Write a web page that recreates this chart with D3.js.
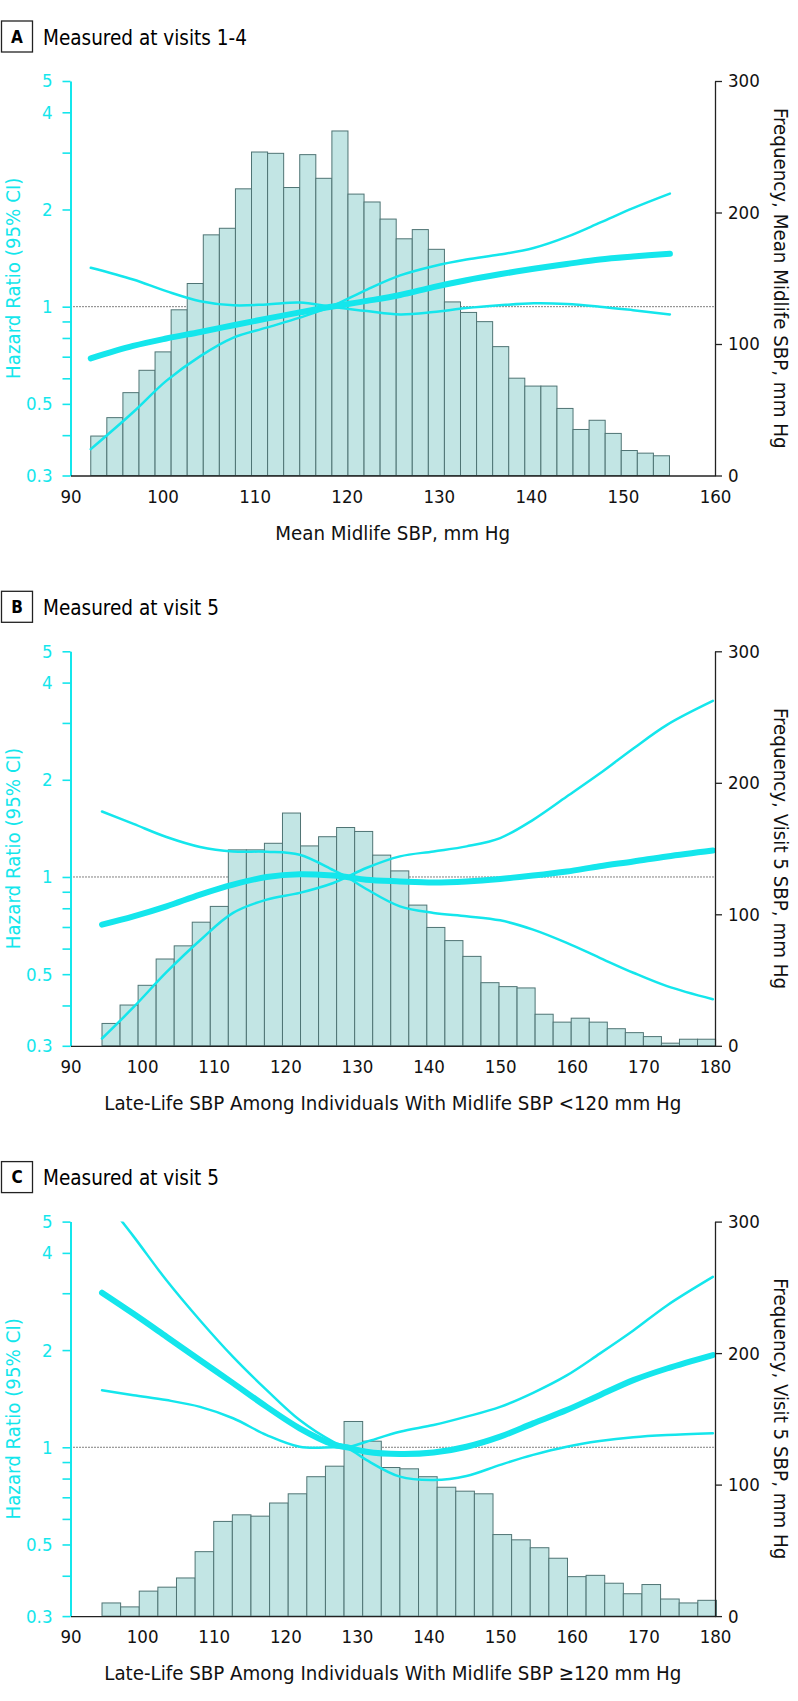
<!DOCTYPE html>
<html>
<head>
<meta charset="utf-8">
<script src="https://cdn.jsdelivr.net/npm/d3@7"></script>
<style>
  body { margin: 0; background: #fff; }
  svg text { font-family: "DejaVu Sans Condensed", "DejaVu Sans", sans-serif; font-stretch: condensed; }
</style>
</head>
<body>
<svg id="chart" width="798" height="1701"></svg>
<script>
// ---- data ----
const panelLetters = ['A', 'B', 'C'];
const panelTitles  = ['Measured at visits 1-4', 'Measured at visit 5', 'Measured at visit 5'];
const xTitles = [
  'Mean Midlife SBP, mm Hg',
  'Late-Life SBP Among Individuals With Midlife SBP <120 mm Hg',
  'Late-Life SBP Among Individuals With Midlife SBP \u2265120 mm Hg'
];
const freqTitles = [
  'Frequency, Mean Midlife SBP, mm Hg',
  'Frequency, Visit 5 SBP, mm Hg',
  'Frequency, Visit 5 SBP, mm Hg'
];
const xMaxes = [160, 180, 180];
const xTicksA  = [90, 100, 110, 120, 130, 140, 150, 160];
const xTicksBC = [90, 100, 110, 120, 130, 140, 150, 160, 170, 180];
const hrTicks  = [0.3, 0.4, 0.5, 0.6, 0.7, 0.8, 0.9, 1, 2, 3, 4, 5];
const hrLabels = [0.3, 0.5, 1, 2, 4, 5];
const freqTicks = [0, 100, 200, 300];

// histogram bins (mm Hg) and counts
const binStarts = [92.2, 94.4, 94.4];
const binWidths = [1.746, 2.52, 2.6];
const countsA = [30, 44, 63, 80, 94, 126, 146, 183, 188, 218, 246, 245, 219, 244, 226, 262, 214, 208,
                 195, 180, 187, 172, 132, 124, 117, 98, 74, 68, 68, 51, 35, 42, 32, 19, 17, 15];
const countsB = [17, 31, 46, 66, 76, 94, 106, 149, 149, 154, 177, 152, 159, 166, 163, 145, 133,
                 107, 90, 80, 68, 48, 45, 44, 24, 18, 21, 18, 13, 10, 7, 2, 5, 5];
const countsC = [10, 7, 19, 22, 29, 49, 72, 77, 76, 86, 93, 106, 114, 148, 133, 113, 112,
                 106, 98, 95, 93, 62, 58, 52, 44, 30, 31, 25, 17, 24, 13, 10, 12];

// hazard ratio curves
const sbpA  = [92.2, 96.8, 100.4, 104.1, 107.7, 111.3, 114.9, 118.3, 122.2, 125.8, 129.4, 133.0, 136.6, 140.3, 143.9, 147.5, 151.1, 155.1];
const hrA   = [0.692, 0.756, 0.797, 0.835, 0.876, 0.918, 0.96, 1.0, 1.042, 1.087, 1.15, 1.208, 1.26, 1.31, 1.355, 1.40, 1.43, 1.458];
const ciA1  = [1.32, 1.214, 1.117, 1.04, 1.01, 1.016, 1.03, 1.0, 0.969, 0.946, 0.962, 0.99, 1.01, 1.025, 1.02, 1.0, 0.975, 0.946];
const ciA2  = [0.362, 0.471, 0.589, 0.703, 0.802, 0.861, 0.925, 1.0, 1.13, 1.25, 1.335, 1.40, 1.45, 1.52, 1.645, 1.82, 2.02, 2.24];

const sbpBC = [94.4, 98.8, 103.4, 108.1, 112.7, 117.4, 122.0, 126.7, 128.6, 131.3, 136.0, 140.7, 145.3, 150.0, 154.6, 159.3, 163.9, 168.6, 173.3, 179.7];
const hrB   = [0.712, 0.755, 0.811, 0.882, 0.947, 1.0, 1.02, 1.01, 1.0, 0.98, 0.969, 0.962, 0.969, 0.986, 1.01, 1.04, 1.08, 1.117, 1.158, 1.208];
const ciB1  = [1.595, 1.46, 1.33, 1.239, 1.2, 1.197, 1.172, 1.05, 1.0, 0.918, 0.811, 0.774, 0.756, 0.734, 0.687, 0.625, 0.562, 0.505, 0.459, 0.418];
const ciB2  = [0.316, 0.395, 0.507, 0.637, 0.774, 0.851, 0.893, 0.958, 1.0, 1.066, 1.158, 1.2, 1.244, 1.32, 1.503, 1.774, 2.09, 2.50, 2.96, 3.51];
const hrC   = [3.01, 2.59, 2.20, 1.86, 1.58, 1.334, 1.145, 1.02, 1.0, 0.969, 0.953, 0.963, 1.004, 1.079, 1.186, 1.304, 1.45, 1.614, 1.754, 1.93];
const ciC1  = [6.0, 4.5, 3.29, 2.47, 1.905, 1.503, 1.214, 1.04, 1.0, 0.914, 0.811, 0.792, 0.815, 0.882, 0.947, 1.004, 1.045, 1.074, 1.091, 1.105];
const ciC2  = [1.503, 1.45, 1.40, 1.334, 1.23, 1.091, 1.004, 1.0, 1.0, 1.04, 1.117, 1.172, 1.244, 1.334, 1.475, 1.67, 1.95, 2.30, 2.75, 3.37];

// ---- layout ----
const cyan = '#14e6ec';
const barFill = '#c2e5e4', barStroke = '#4f7474';
const plotLeft = 70.5, plotRight = 715;
const panelTops = [81, 651.3, 1221.6];
const plotH = 394.5;

const panels = [
  { counts: countsA, sbp: sbpA,  hr: hrA, ci1: ciA1, ci2: ciA2, xTicks: xTicksA },
  { counts: countsB, sbp: sbpBC, hr: hrB, ci1: ciB1, ci2: ciB2, xTicks: xTicksBC },
  { counts: countsC, sbp: sbpBC, hr: hrC, ci1: ciC1, ci2: ciC2, xTicks: xTicksBC }
];

const svg = d3.select('#chart');

panels.forEach((p, i) => {
  const top = panelTops[i], bottom = top + plotH;
  const g = svg.append('g');

  const x  = d3.scaleLinear().domain([90, xMaxes[i]]).range([plotLeft, plotRight]);
  const yH = d3.scaleLog().domain([0.3, 5]).range([bottom, top]);
  const yF = d3.scaleLinear().domain([0, 300]).range([bottom, top]);

  // header
  g.append('rect')
      .attr('x', 1.5).attr('y', top - 60)
      .attr('width', 31).attr('height', 31)
      .attr('fill', 'none').attr('stroke', '#222').attr('stroke-width', 1.3);
  g.append('text')
      .attr('x', 17).attr('y', top - 44.5)
      .attr('text-anchor', 'middle').attr('dominant-baseline', 'central')
      .style('font-size', '17px').style('font-weight', 'bold')
      .text(panelLetters[i]);
  g.append('text')
      .attr('x', 43).attr('y', top - 36.5)
      .style('font-size', '20.5px')
      .text(panelTitles[i]);

  // reference line at HR = 1
  g.append('line')
      .attr('x1', plotLeft + 3).attr('x2', plotRight)
      .attr('y1', yH(1)).attr('y2', yH(1))
      .attr('stroke', '#000').attr('stroke-width', 1)
      .attr('stroke-dasharray', '1,2');

  // histogram
  const w = binWidths[i], x0 = binStarts[i];
  g.append('g').selectAll('rect')
    .data(p.counts)
    .join('rect')
      .attr('x', (d, k) => x(x0 + k * w))
      .attr('width', (d, k) => x(x0 + (k + 1) * w) - x(x0 + k * w))
      .attr('y', d => yF(d))
      .attr('height', d => bottom - yF(d))
      .attr('fill', barFill)
      .attr('stroke', barStroke)
      .attr('stroke-width', 1);

  // curves
  const clipId = 'clip' + i;
  g.append('clipPath').attr('id', clipId)
    .append('rect')
      .attr('x', plotLeft).attr('y', top)
      .attr('width', plotRight - plotLeft).attr('height', plotH);

  const line = d3.line()
      .x(d => x(d[0]))
      .y(d => yH(d[1]))
      .curve(d3.curveCatmullRom.alpha(0.5));

  const curves = g.append('g').attr('clip-path', `url(#${clipId})`)
      .attr('fill', 'none').attr('stroke', cyan)
      .attr('stroke-linecap', 'round').attr('stroke-linejoin', 'round');

  [p.ci1, p.ci2].forEach(ci => {
    curves.append('path')
        .attr('d', line(p.sbp.map((s, k) => [s, ci[k]])))
        .attr('stroke-width', 2.5);
  });
  curves.append('path')
      .attr('d', line(p.sbp.map((s, k) => [s, p.hr[k]])))
      .attr('stroke-width', 6);

  // left axis (hazard ratio)
  const axL = g.append('g')
      .attr('transform', `translate(${plotLeft},0)`)
      .call(d3.axisLeft(yH)
        .tickValues(hrTicks)
        .tickFormat(d => hrLabels.includes(d) ? d : '')
        .tickSize(8).tickPadding(10).tickSizeOuter(0));
  axL.select('.domain').attr('stroke', cyan).attr('stroke-width', 2);
  axL.selectAll('.tick line').attr('stroke', cyan).attr('stroke-width', 1.6);
  axL.selectAll('.tick text').attr('fill', cyan).style('font-size', '18.5px');

  // right axis (frequency)
  const axR = g.append('g')
      .attr('transform', `translate(${plotRight},0)`)
      .call(d3.axisRight(yF)
        .tickValues(freqTicks)
        .tickSize(7).tickPadding(6).tickSizeOuter(0));
  axR.select('.domain').attr('stroke', '#222').attr('stroke-width', 1.3);
  axR.selectAll('.tick line').attr('stroke', '#222').attr('stroke-width', 1.3);
  axR.selectAll('.tick text').attr('fill', '#111').style('font-size', '18.5px');

  // bottom axis
  const axB = g.append('g')
      .attr('transform', `translate(0,${bottom})`)
      .call(d3.axisBottom(x)
        .tickValues(p.xTicks)
        .tickSize(0).tickPadding(14).tickSizeOuter(0));
  axB.select('.domain').attr('stroke', '#222').attr('stroke-width', 1.3);
  axB.selectAll('.tick text').attr('fill', '#111').style('font-size', '18.5px');

  // axis titles
  g.append('text')
      .attr('x', (plotLeft + plotRight) / 2).attr('y', bottom + 57)
      .attr('text-anchor', 'middle').attr('dominant-baseline', 'central')
      .style('font-size', '20.3px').attr('fill', '#111')
      .text(xTitles[i]);
  g.append('text')
      .attr('transform', `translate(13,${(top + bottom) / 2}) rotate(-90)`)
      .attr('text-anchor', 'middle').attr('dominant-baseline', 'central')
      .style('font-size', '20.3px').attr('fill', cyan)
      .text('Hazard Ratio (95% CI)');
  g.append('text')
      .attr('transform', `translate(781,${(top + bottom) / 2}) rotate(90)`)
      .attr('text-anchor', 'middle').attr('dominant-baseline', 'central')
      .style('font-size', '20.3px').attr('fill', '#111')
      .text(freqTitles[i]);
});
</script>
</body>
</html>
